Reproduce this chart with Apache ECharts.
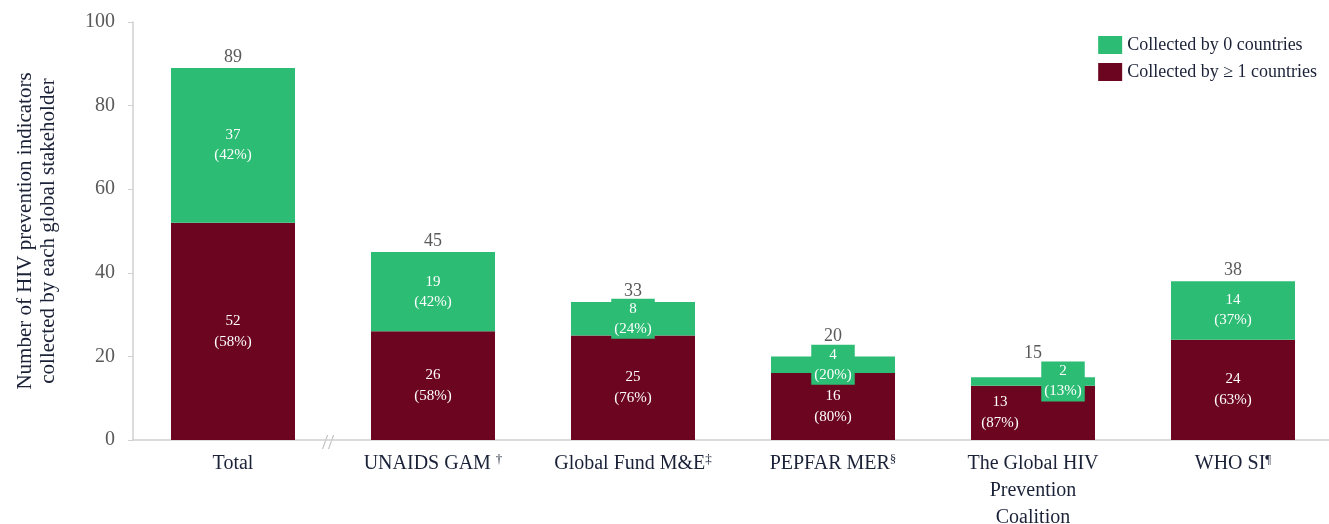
<!DOCTYPE html>
<html>
<head>
<meta charset="utf-8">
<script src="https://cdn.jsdelivr.net/npm/echarts@6/dist/echarts.min.js"></script>
<style>
  html, body { margin: 0; padding: 0; background: #fff; }
  #chart { width: 1329px; height: 524px; }
</style>
</head>
<body>
<div id="chart"></div>
<script>
// categories and values
const categories = ['Total', 'UNAIDS GAM †', 'Global Fund M&E‡', 'PEPFAR MER§', 'The Global HIV\nPrevention\nCoalition', 'WHO SI¶'];
const collectedAny = [52, 26, 25, 16, 13, 24];
const collectedNone = [37, 19, 8, 4, 2, 14];
const pctAny = [58, 58, 76, 80, 87, 63];
const pctNone = [42, 42, 24, 20, 13, 37];
const totals = [89, 45, 33, 20, 15, 38];
const yTicks = [0, 20, 40, 60, 80, 100];

const GREEN = '#2cbc74';
const RED = '#6c0620';
const NAVY = '#1b2238';
const GREY = '#595959';
const FONT = "'Liberation Serif', 'Times New Roman', serif";

const chart = echarts.init(document.getElementById('chart'));

// the coalition bar has its two labels pushed sideways
const anyData = collectedAny.map((v, i) => i === 4 ? {value: v, label: {offset: [-33, 0]}} : v);
const noneData = collectedNone.map((v, i) => i === 4 ? {value: v, label: {offset: [30, 0]}} : v);
// totals sit above the green label boxes on the short bars
const totalData = totals.map((v, i) => {
    if (i === 3) return {value: v, label: {distance: 11}};
    if (i === 4) return {value: v, label: {distance: 15}};
    return v;
});

const option = {
    animation: false,
    textStyle: {fontFamily: FONT},
    grid: {left: 133, right: -4, top: 22, bottom: 84, outerBoundsMode: 'none', containLabel: false},
    legend: {
        data: ['Collected by 0 countries', 'Collected by ≥ 1 countries'],
        orient: 'vertical',
        right: 7,
        top: 31,
        itemWidth: 24,
        itemHeight: 18,
        itemGap: 9,
        icon: 'rect',
        textStyle: {fontFamily: FONT, fontSize: 18, color: NAVY}
    },
    xAxis: {
        type: 'category',
        data: categories,
        axisLine: {lineStyle: {color: '#d0d0d0', width: 1.5}},
        axisTick: {show: false},
        axisLabel: {
            margin: 10,
            fontFamily: FONT,
            fontSize: 20,
            lineHeight: 27,
            color: NAVY,
            interval: 0,
            formatter: v => v.replace(/([†‡§¶])/, '{s|$1}'),
            rich: {
                s: {fontFamily: FONT, fontSize: 13, color: NAVY, padding: [0, 0, 8, 0]}
            }
        }
    },
    yAxis: {
        type: 'value',
        min: yTicks[0],
        max: yTicks[yTicks.length - 1],
        interval: 20,
        name: 'Number of HIV prevention indicators\ncollected by each global stakeholder',
        nameLocation: 'middle',
        nameRotate: 90,
        nameGap: 73,
        nameTextStyle: {fontFamily: FONT, fontSize: 21, lineHeight: 23, color: NAVY},
        axisLine: {show: true, lineStyle: {color: '#d0d0d0', width: 1.5}},
        axisTick: {show: true, length: 5, lineStyle: {color: '#d0d0d0'}},
        axisLabel: {margin: 18, fontFamily: FONT, fontSize: 20, color: GREY},
        splitLine: {show: false}
    },
    series: [
        {
            name: 'Collected by ≥ 1 countries',
            type: 'bar',
            stack: 'all',
            barWidth: '62%',
            data: anyData,
            itemStyle: {color: RED},
            label: {
                show: true,
                position: 'inside',
                fontFamily: FONT,
                fontSize: 15,
                lineHeight: 21,
                color: '#fff',
                formatter: p => p.value + '\n(' + pctAny[p.dataIndex] + '%)'
            }
        },
        {
            name: 'Collected by 0 countries',
            type: 'bar',
            stack: 'all',
            barWidth: '62%',
            data: noneData,
            itemStyle: {color: GREEN},
            label: {
                show: true,
                position: 'inside',
                fontFamily: FONT,
                fontSize: 15,
                lineHeight: 20,
                color: '#fff',
                backgroundColor: GREEN,
                padding: [0, 3],
                formatter: p => p.value + '\n(' + pctNone[p.dataIndex] + '%)'
            },
            z: 3
        },
        {
            name: 'total',
            type: 'line',
            data: totalData,
            symbol: 'circle',
            symbolSize: 1,
            itemStyle: {color: 'rgba(0,0,0,0)'},
            lineStyle: {width: 0, opacity: 0},
            silent: true,
            label: {
                show: true,
                position: 'top',
                distance: 1,
                fontFamily: FONT,
                fontSize: 18,
                color: GREY
            },
            z: 5
        }
    ],
    graphic: [
        {
            type: 'text',
            left: 322,
            top: 432,
            style: {text: '//', fontFamily: FONT, fontSize: 22, fill: '#bdbdbd'}
        }
    ]
};

option && chart.setOption(option);
</script>
</body>
</html>
